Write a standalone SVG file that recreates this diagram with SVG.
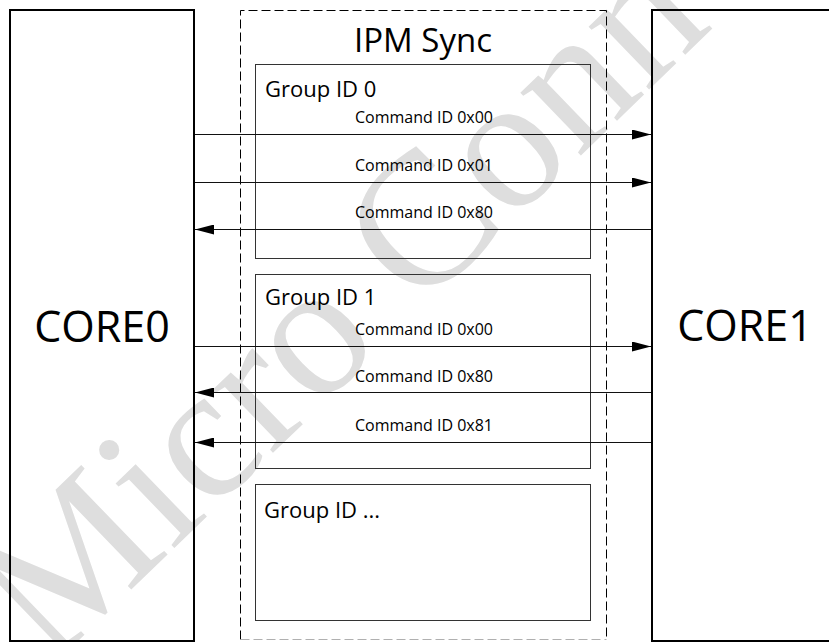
<svg xmlns="http://www.w3.org/2000/svg" width="829" height="642" viewBox="0 0 829 642">
  <style>
    text { font-family: "Open Sans", "Liberation Sans", sans-serif; fill: #000; }
    .core { fill: none; stroke: #000; stroke-width: 2; }
    .core-label { font-size: 43px; text-anchor: middle; }
    .sync { fill: none; stroke: #000; stroke-width: 1; stroke-dasharray: 9 4; }
    .sync-base { fill: none; stroke: #b0b0b0; stroke-width: 1; stroke-dasharray: 9 4; }
    .sync-label { font-size: 33px; text-anchor: middle; }
    .grp { fill: none; stroke: #333; stroke-width: 1; }
    .grp-label { font-size: 22px; }
    .cmd { font-size: 16px; text-anchor: middle; }
    .msg { stroke: #111; stroke-width: 1; fill: none; marker-end: url(#head); }
    .mark { font-family: "Liberation Serif", serif; font-size: 190px; fill: #dedede; }
  </style>
  <defs>
    <marker id="head" markerUnits="userSpaceOnUse" markerWidth="20" markerHeight="10" refX="19" refY="5" orient="auto">
      <path d="M0,0 L19,5 L0,10 Z" fill="#000"/>
    </marker>
  </defs>

  <!-- background watermark -->
  <text class="mark" x="50" y="668" transform="rotate(-44 50 668)">Micro Conn</text>

  <g id="core0">
    <rect class="core" x="10" y="10" width="184" height="631"/>
    <text class="core-label" x="102" y="342">CORE0</text>
  </g>

  <g id="core1">
    <rect class="core" x="652" y="10" width="200" height="631"/>
    <text class="core-label" x="745" y="341">CORE1</text>
  </g>

  <g id="ipm-sync">
    <path class="sync" d="M240.5,639.5 V10.5 H606.5 V639.5"/>
    <line class="sync-base" x1="240.5" y1="639.5" x2="606.5" y2="639.5"/>
    <text class="sync-label" x="423" y="52">IPM Sync</text>
  </g>

  <g id="group-0">
    <rect class="grp" x="255.5" y="64.5" width="335" height="194"/>
    <text class="grp-label" x="265" y="97">Group ID 0</text>
  </g>

  <g id="group-1">
    <rect class="grp" x="255.5" y="274.5" width="335" height="194"/>
    <text class="grp-label" x="265" y="305">Group ID 1</text>
  </g>

  <g id="group-n">
    <rect class="grp" x="255.5" y="484.5" width="335" height="136"/>
    <text class="grp-label" x="264" y="518">Group ID ...</text>
  </g>

  <g id="connectors">
    <line class="msg" x1="195" y1="134.5" x2="651" y2="134.5"/>
    <text class="cmd" x="424" y="123">Command ID 0x00</text>
    <line class="msg" x1="195" y1="182.5" x2="651" y2="182.5"/>
    <text class="cmd" x="424" y="171">Command ID 0x01</text>
    <line class="msg" x1="651" y1="229.5" x2="195" y2="229.5"/>
    <text class="cmd" x="424" y="218">Command ID 0x80</text>
    <line class="msg" x1="195" y1="346.5" x2="651" y2="346.5"/>
    <text class="cmd" x="424" y="335">Command ID 0x00</text>
    <line class="msg" x1="651" y1="392.5" x2="195" y2="392.5"/>
    <text class="cmd" x="424" y="382">Command ID 0x80</text>
    <line class="msg" x1="651" y1="442.5" x2="195" y2="442.5"/>
    <text class="cmd" x="424" y="431">Command ID 0x81</text>
  </g>
</svg>
